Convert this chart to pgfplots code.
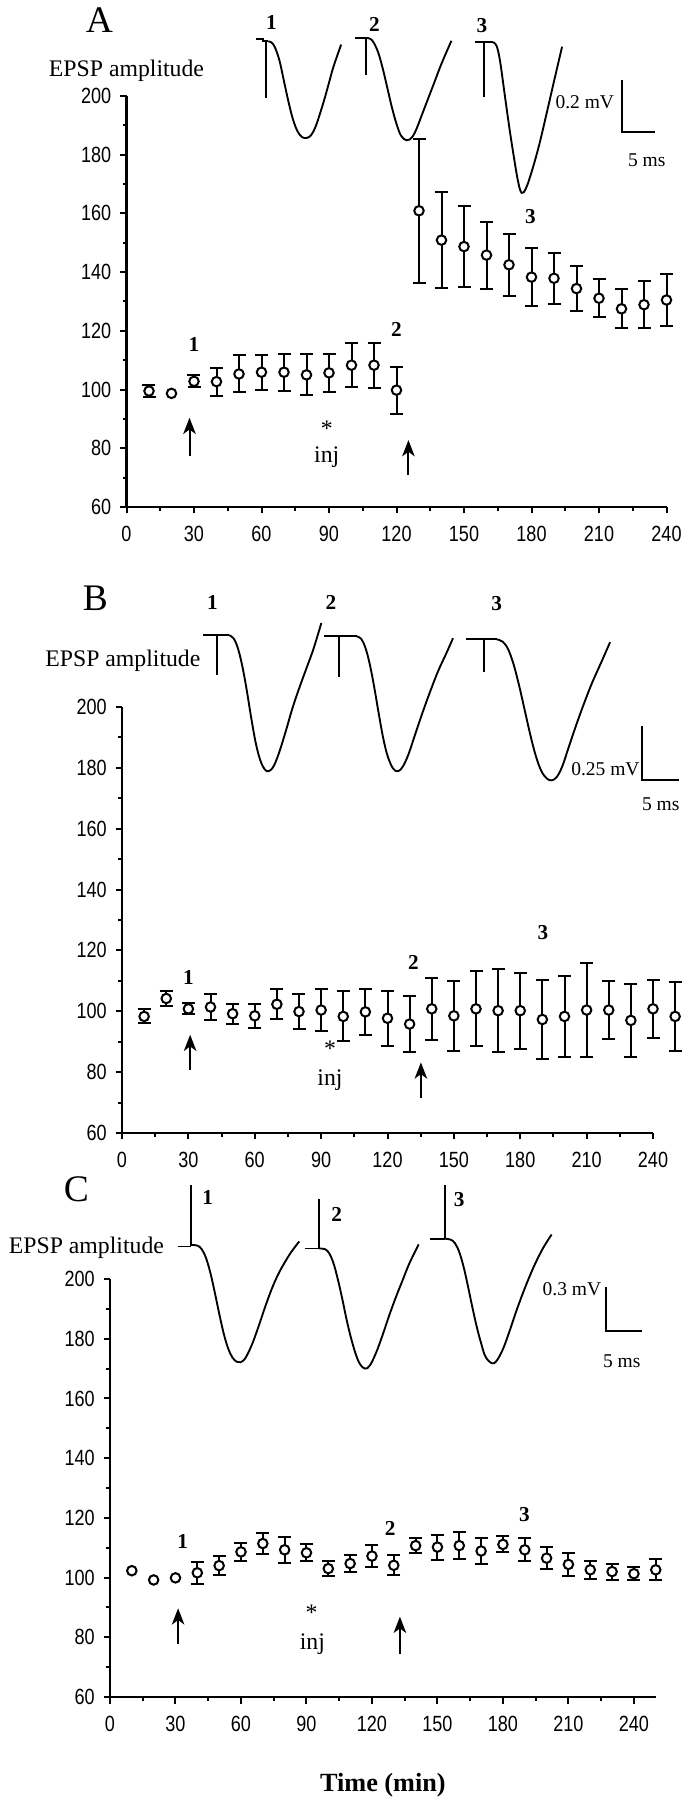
\documentclass[border=0pt]{standalone}
\usepackage{fontspec}
\setmainfont{Liberation Serif}
\newfontfamily\tickfont[FakeStretch=0.82]{Liberation Sans}
\usepackage{pgfplots}
\pgfplotsset{compat=1.18}
\usetikzlibrary{arrows.meta}

\pgfplotsset{
  epsp/.style={
    scale only axis, clip=false,
    axis x line*=bottom, axis y line*=left,
    x axis line style={-}, y axis line style={-},
    axis line style={line width=0.9pt},
    ymin=60, ymax=200, ytick={60,80,...,200}, minor y tick num=1,
    xmin=0, xtick={0,30,...,240}, minor x tick num=1,
    tick align=outside, major tick length=2.6pt, minor tick length=1.6pt,
    every tick/.style={black, line width=0.8pt},
    ticklabel style={font=\tickfont\fontsize{8.8}{9}\selectfont},
    xticklabel style={yshift=-1.5pt},
    /pgf/number format/assume math mode=true,
  },
  pts/.style={only marks, mark=*, mark size=1.9pt,
    mark options={fill=white, draw=black, line width=0.8pt},
    error bars/.cd, y dir=both, y explicit,
    error bar style={black, line width=0.8pt},
    error mark options={rotate=90, mark size=2.6pt, line width=0.8pt}},
  dot/.style={only marks, mark=*, mark size=1.9pt,
    mark options={fill=white, draw=black, line width=0.8pt}},
  trace/.style={black, line width=0.75pt, smooth, tension=0.6},
  tr/.style={black, line width=0.75pt},
}
\newcommand{\bnum}{\bfseries\fontsize{8.5}{9}\selectfont}
\newcommand{\lab}{\fontsize{9.5}{10}\selectfont}
\newcommand{\sclab}{\fontsize{7.8}{8}\selectfont}
\tikzset{up/.style={line width=0.8pt, -{Stealth[length=6.5pt, width=5pt, inset=1.8pt]}}}

\begin{document}
\begin{tikzpicture}
\useasboundingbox (0,0) rectangle (274pt,720pt);

% ---------------- A ----------------
\begin{axis}[epsp, at={(50.6pt,517.2pt)}, anchor=south west,
  width=216pt, height=164.4pt, xmax=240]
  \addplot[pts] table[x=t, y=v, y error=e] {
    t v e
    10 99.5 2
    30 102.8 2
    40 102.7 4.8
    50 105.3 6.3
    60 105.9 5.9
    70 105.9 6.3
    80 105.0 7
    90 105.7 6.5
    100 108.3 7.5
    110 108.3 7.7
    120 99.8 8
    130 160.9 24.5
    140 150.9 16.4
    150 148.7 13.7
    160 145.8 11.4
    170 142.5 10.6
    180 138.3 10
    190 137.9 8.7
    200 134.4 7.6
    210 131.1 6.5
    220 127.5 6.7
    230 128.9 8
    240 130.5 8.9
  };
  \addplot[dot] coordinates {(20,98.7)};
  % traces
  \addplot[tr] coordinates {(57.6,219.3) (60.5,219.3) (60.5,218.6) (63,218.6)};
  \addplot[tr] coordinates {(62,218.6) (62,199.2)};
  \addplot[trace] coordinates {(63,218.6) (64.5,218.2) (66,216.5) (68,212) (70,205)
    (72,198) (74,192) (76,188) (78,186) (80,185.7) (82,186.6) (84,189.5) (86,194)
    (88,199) (90,204.5) (92,210) (95.4,217.5)};
  \addplot[tr] coordinates {(101.5,219.8) (106.8,219.8)};
  \addplot[tr] coordinates {(106.3,219.8) (106.3,207.2)};
  \addplot[trace] coordinates {(106.8,219.8) (108.5,219.4) (110,218) (112,214.5)
    (114,209) (116,202.5) (118,196) (120,190.5) (122,186.5) (124.5,184.9) (127,186)
    (129,189) (131,193) (134,199) (137,205) (140,211) (144.4,218.8)};
  \addplot[tr] coordinates {(155.1,218.3) (162.9,218.3)};
  \addplot[tr] coordinates {(159,218.3) (159,199.6)};
  \addplot[trace] coordinates {(162.9,218.3) (164.5,217) (166,212) (168,201) (170,190)
    (172,180) (174,171) (175.6,167) (177.5,168.5) (180,174) (183.4,183.3) (187,195)
    (190,205) (193.6,216.8)};
  % scale bar
  \draw[line width=0.8pt] (axis cs:220.1,205.5) -- (axis cs:220.1,187.9) -- (axis cs:234.7,187.9);
  \node[anchor=east, inner sep=1pt, font=\sclab] at (axis cs:218,197.9) {0.2 mV};
  \node[font=\sclab] at (axis cs:231.2,178.1) {5 ms};
  % labels
  \node[font=\fontsize{15}{15}\selectfont] at (axis cs:-12,225.7) {A};
  \node[font=\lab] at (axis cs:0,208.7) {EPSP amplitude};
  \node[font=\bnum] at (axis cs:64.4,225) {1};
  \node[font=\bnum] at (axis cs:110.2,224.4) {2};
  \node[font=\bnum] at (axis cs:158,224) {3};
  \node[font=\bnum] at (axis cs:30,115.4) {1};
  \node[font=\bnum] at (axis cs:120,120.4) {2};
  \node[font=\bnum] at (axis cs:179.5,159) {3};
  \node[font=\lab] at (axis cs:89,86.7) {*};
  \node[font=\lab] at (axis cs:89,77) {inj};
  \draw[up] (axis cs:28,77.4) -- (axis cs:28,90.4);
  \draw[up] (axis cs:125.3,71) -- (axis cs:125.3,82.8);
\end{axis}

% ---------------- B ----------------
\begin{axis}[epsp, at={(48.8pt,266.8pt)}, anchor=south west,
  width=212.4pt, height=170.4pt, xmax=240]
  \addplot[pts] table[x=t, y=v, y error=e] {
    t v e
    10 98.3 2.3
    20 104.2 2.5
    30 100.8 1.8
    40 101.4 4.3
    50 99.2 3.3
    60 98.5 4
    70 102.3 4.9
    80 99.9 5.8
    90 100.4 6.8
    100 98.3 8.2
    110 99.8 7.5
    120 97.7 9
    130 95.8 9.3
    140 100.8 10.1
    150 98.5 11.5
    160 100.8 12.3
    170 100.2 13.7
    180 100.2 12.5
    190 97.3 13
    200 98.3 13.3
    210 100.4 15.4
    220 100.4 9.6
    230 97.0 11.9
    240 100.8 9.6
    250 98.3 11.2
  };
  \addplot[tr] coordinates {(36.5,223.6) (48.4,223.6)};
  \addplot[tr] coordinates {(42.9,223.6) (42.9,210.4)};
  \addplot[trace] coordinates {(48.4,223.6) (50.5,222.5) (52.5,219) (54.5,213) (56.5,205)
    (58.5,196) (60.5,188) (62.5,182.5) (64.5,179.5) (66.3,178.9) (68.5,180.5) (71,185)
    (74,192) (77,199.5) (80,206) (83,212) (86.5,219) (90.1,227.6)};
  \addplot[tr] coordinates {(91.1,223.2) (106,223.2)};
  \addplot[tr] coordinates {(98,223.2) (98,209.7)};
  \addplot[trace] coordinates {(106,223.2) (108,222.5) (110,219.5) (112,214) (114,206.5)
    (116,198) (118,190) (120,184) (122.5,179.8) (124.8,178.9) (127,180.5) (129.5,184.5)
    (132.5,191) (136,198.5) (139.5,205.5) (143,212) (146.5,217.5) (149.6,222.6)};
  \addplot[tr] coordinates {(155.6,222.2) (169.4,222.2)};
  \addplot[tr] coordinates {(163.5,222.2) (163.5,211.6)};
  \addplot[trace] coordinates {(169.4,222.2) (172,221.5) (174.5,219) (177,214) (179.5,207)
    (182,199) (184.5,191) (187,184) (189.5,179) (192,176.5) (194.2,175.9) (196.5,177)
    (199,180.5) (202,187) (205.5,194.5) (209,201.5) (212.5,208) (216.5,214.5) (220.6,221.3)};
  \draw[line width=0.8pt] (axis cs:234.9,193.7) -- (axis cs:234.9,176.1) -- (axis cs:251.8,176.1);
  \node[anchor=east, inner sep=0.5pt, font=\sclab] at (axis cs:234.7,179.5) {0.25 mV};
  \node[font=\sclab] at (axis cs:243.5,168) {5 ms};
  \node[font=\fontsize{15}{15}\selectfont] at (axis cs:-12,235.8) {B};
  \node[font=\lab] at (axis cs:0.4,215.1) {EPSP amplitude};
  \node[font=\bnum] at (axis cs:40.9,234.5) {1};
  \node[font=\bnum] at (axis cs:94.4,234.5) {2};
  \node[font=\bnum] at (axis cs:169.4,233.9) {3};
  \node[font=\bnum] at (axis cs:30,111.1) {1};
  \node[font=\bnum] at (axis cs:131.7,116.1) {2};
  \node[font=\bnum] at (axis cs:190.3,125.9) {3};
  \node[font=\lab] at (axis cs:94,87.6) {*};
  \node[font=\lab] at (axis cs:94,77.3) {inj};
  \draw[up] (axis cs:30.8,80.7) -- (axis cs:30.8,92.3);
  \draw[up] (axis cs:135.1,71.6) -- (axis cs:135.1,83.2);
\end{axis}

% ---------------- C ----------------
\begin{axis}[epsp, at={(44pt,41.2pt)}, anchor=south west,
  width=218.3pt, height=167.2pt, xmax=250]
  \addplot[pts] table[x=t, y=v, y error=e] {
    t v e
    40 101.6 3.7
    50 104.0 3.3
    60 108.6 3
    70 111.4 3.5
    80 109.3 4.3
    90 108.3 2.9
    100 103.0 2.6
    110 104.7 2.7
    120 107.2 3.6
    130 104.1 3.3
    140 110.7 2.5
    150 110.2 4.2
    160 110.7 4.4
    170 108.9 4.2
    180 111.1 2.7
    190 109.3 3.8
    200 106.5 3.6
    210 104.4 3.8
    220 102.6 3.1
    230 102.0 2.7
    240 101.3 2.1
    250 102.6 3.5
  };
  \addplot[dot] coordinates {(10,102.3) (20,99.2) (30,99.9)};
  \addplot[tr] coordinates {(31.2,210.9) (37.3,210.9)};
  \addplot[tr] coordinates {(37.3,210.9) (37.3,231.4)};
  \addplot[trace] coordinates {(37.3,211.4) (40,211.2) (42,210) (44,207) (46,202)
    (48,195.5) (50,188.5) (52,182) (54,177) (56,173.8) (58,172.3) (59.7,172.1) (62,173.5)
    (65,178) (68,184) (71,190.5) (74,196.5) (77,201.5) (80,205.5) (83,209) (86.7,212.6)};
  \addplot[tr] coordinates {(89.1,210.2) (95.8,210.2)};
  \addplot[tr] coordinates {(95.8,210.2) (95.8,226.9)};
  \addplot[trace] coordinates {(95.8,210.2) (98.5,210) (100.5,208.5) (102.5,205)
    (104.5,199.5) (106.5,193) (108.5,186) (110.5,180) (112.5,175) (114.5,171.5)
    (116.8,170) (119,171) (122,175.5) (125,181.5) (128,188) (131,194) (134,199.5)
    (137,205) (141.4,211.6)};
  \addplot[tr] coordinates {(146.8,213.5) (153.4,213.5)};
  \addplot[tr] coordinates {(153.4,213.5) (153.4,231.4)};
  \addplot[trace] coordinates {(153.4,213.5) (156,213.2) (158,212) (160,209) (162,204)
    (164,197.5) (166,190.5) (168,184) (170,178.5) (172,174) (174.9,171.8) (177,172.5)
    (180,176.5) (183,182.5) (186,189) (189,195) (192,200.5) (195,205.5) (198.5,210.5)
    (202.3,214.9)};
  \draw[line width=0.8pt] (axis cs:227,197.2) -- (axis cs:227,182.6) -- (axis cs:243.6,182.6);
  \node[anchor=east, inner sep=0.5pt, font=\sclab] at (axis cs:225.8,196.5) {0.3 mV};
  \node[font=\sclab] at (axis cs:234.4,172.4) {5 ms};
  \node[font=\fontsize{15}{15}\selectfont] at (axis cs:-15.4,230) {C};
  \node[font=\lab] at (axis cs:-10.8,210.5) {EPSP amplitude};
  \node[font=\bnum] at (axis cs:44.7,227.2) {1};
  \node[font=\bnum] at (axis cs:103.8,221.6) {2};
  \node[font=\bnum] at (axis cs:159.9,226.5) {3};
  \node[font=\bnum] at (axis cs:33.3,112.1) {1};
  \node[font=\bnum] at (axis cs:128.4,116.3) {2};
  \node[font=\bnum] at (axis cs:189.9,121.1) {3};
  \node[font=\lab] at (axis cs:92.3,88.3) {*};
  \node[font=\lab] at (axis cs:92.7,77.6) {inj};
  \draw[up] (axis cs:31.2,77.9) -- (axis cs:31.2,89.7);
  \draw[up] (axis cs:132.8,74.4) -- (axis cs:132.8,86.9);
  \node[font=\bfseries\fontsize{10.5}{11}\selectfont] at (axis cs:125,30.6) {Time (min)};
\end{axis}
\end{tikzpicture}
\end{document}
